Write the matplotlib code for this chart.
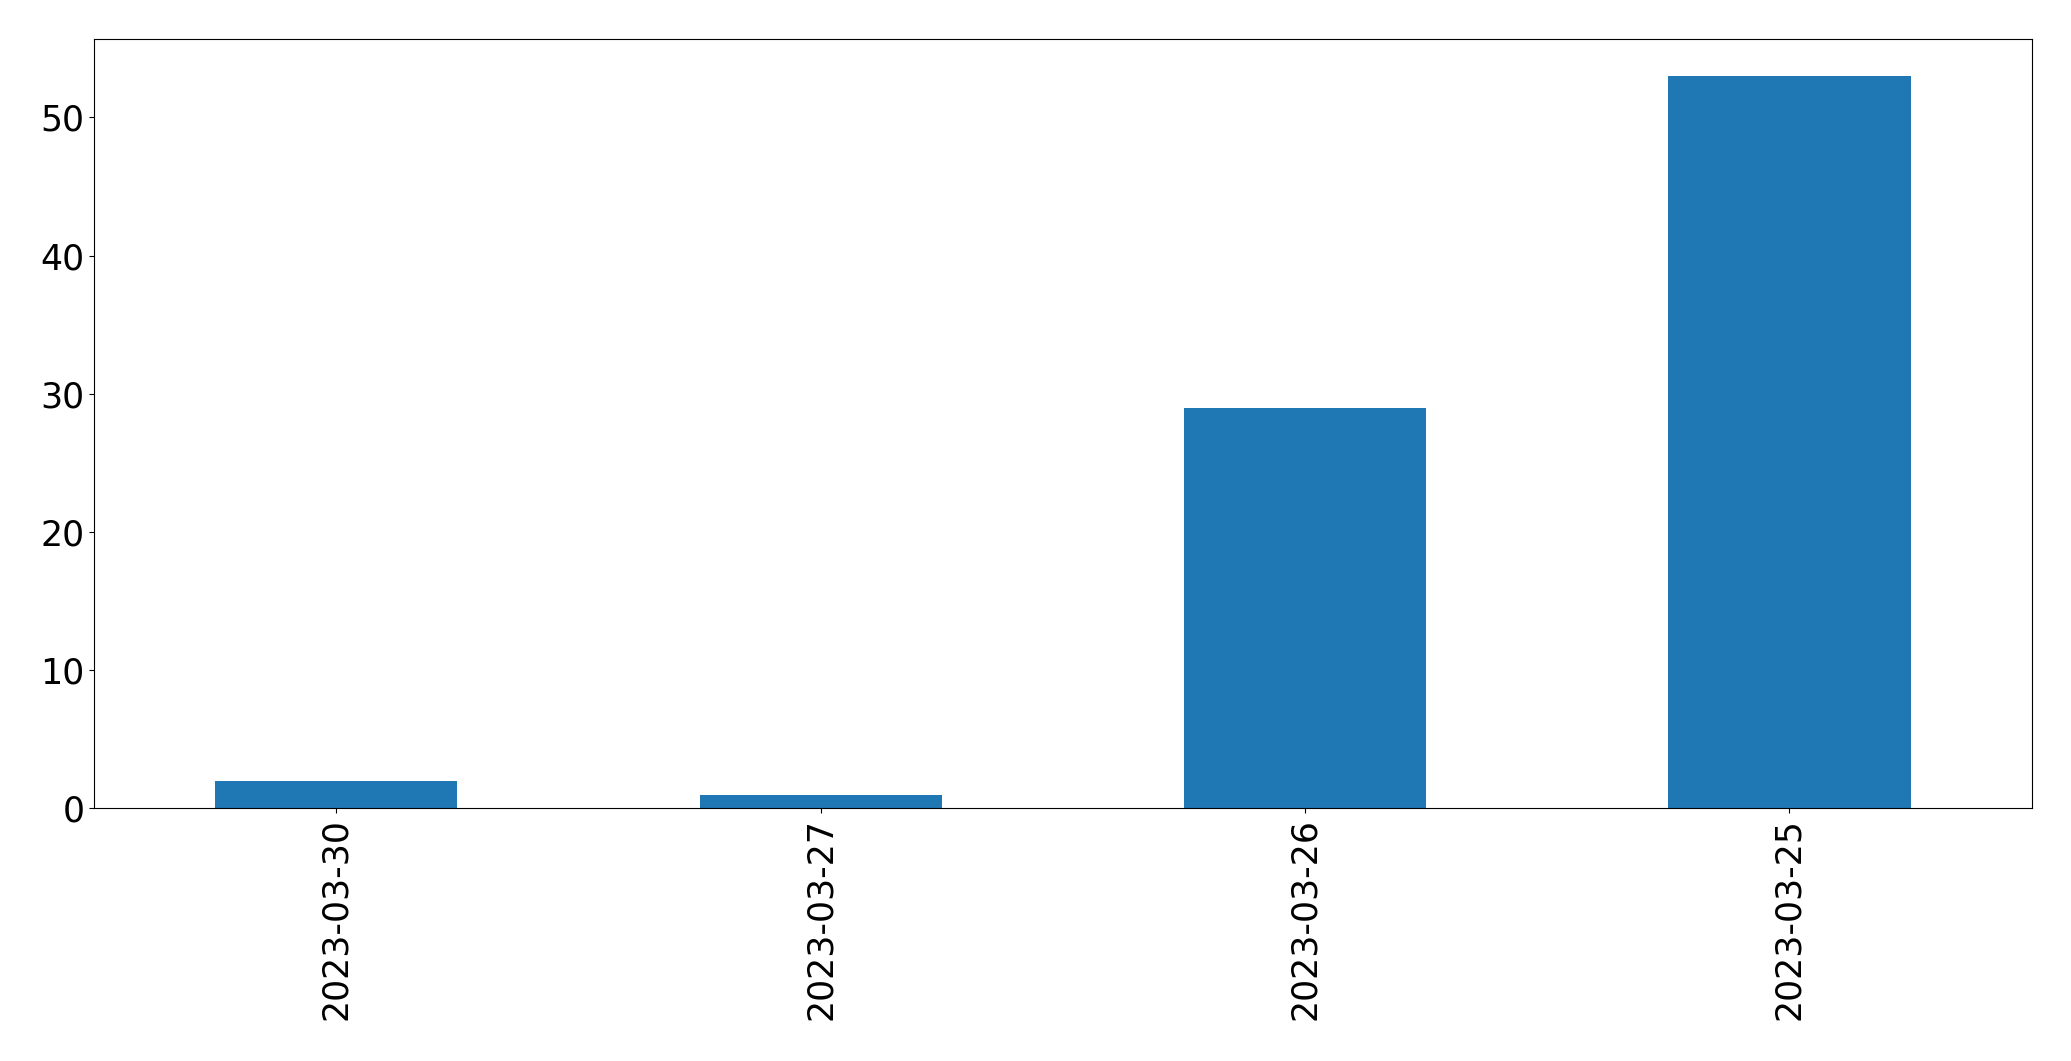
import matplotlib
matplotlib.use("Agg")
import matplotlib.pyplot as plt
import pandas as pd

dates = ["2023-03-30", "2023-03-27", "2023-03-26", "2023-03-25"]
counts = [2, 1, 29, 53]

series = pd.Series(counts, index=dates)

fig, ax = plt.subplots(figsize=(20.71, 10.61), dpi=100)
series.plot(kind="bar", ax=ax, color="#1f77b4")
ax.tick_params(axis="both", labelsize=25)
fig.subplots_adjust(left=0.0454, right=0.981, top=0.963, bottom=0.238)
fig.savefig("out.png", dpi=100)
